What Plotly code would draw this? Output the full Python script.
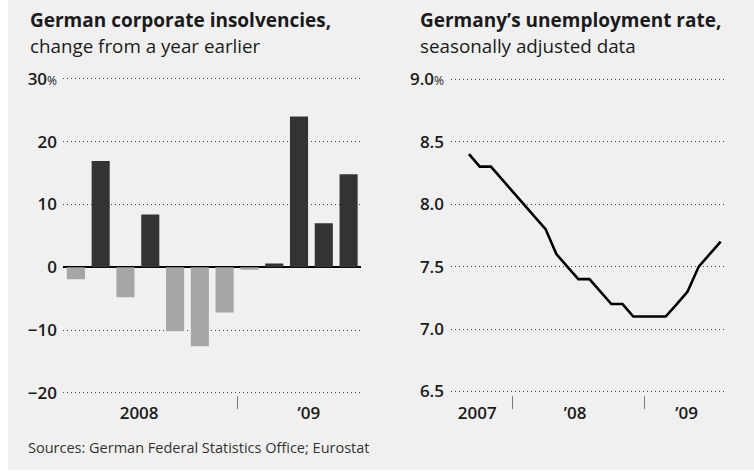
import plotly.graph_objects as go

# ---- data ----
insolv_idx = list(range(12))  # monthly, Jun 2008 - May 2009
insolv_vals = [-1.9, 16.9, -4.8, 8.4, -10.2, -12.6, -7.2, -0.4, 0.6, 24.0, 7.0, 14.8]
insolv_year_labels = ["2008", "\u201909"]
insolv_year_pos = [2.55, 9.4]
insolv_divider = [6.5]

unemp_dates = ["2007-09-01", "2007-10-01", "2007-11-01", "2007-12-01",
               "2008-01-01", "2008-02-01", "2008-03-01", "2008-04-01",
               "2008-05-01", "2008-06-01", "2008-07-01", "2008-08-01",
               "2008-09-01", "2008-10-01", "2008-11-01", "2008-12-01",
               "2009-01-01", "2009-02-01", "2009-03-01", "2009-04-01",
               "2009-05-01", "2009-06-01", "2009-07-01", "2009-08-01"]
unemp_vals = [8.4, 8.3, 8.3, 8.2, 8.1, 8.0, 7.9, 7.8,
              7.6, 7.5, 7.4, 7.4, 7.3, 7.2, 7.2, 7.1,
              7.1, 7.1, 7.1, 7.2, 7.3, 7.5, 7.6, 7.7]
unemp_year_labels = ["2007", "\u201908", "\u201909"]
unemp_year_pos = ["2007-09-24", "2008-06-22", "2009-04-28"]
unemp_dividers = ["2008-01-01", "2009-01-01"]

left_yticks = [30, 20, 10, 0, -10, -20]
left_ytext = ["30<span style='font-size:12px;font-weight:400'>%</span>", "20", "10", "0", "\u221210", "\u221220"]
right_yticks = [9.0, 8.5, 8.0, 7.5, 7.0, 6.5]
right_ytext = ["9.0<span style='font-size:12px;font-weight:400'>%</span>", "8.5", "8.0", "7.5", "7.0", "6.5"]

# ---- style ----
W, H = 754, 475
FONT = "Open Sans"
BG = "#f0f0f0"
TXT = "#1a1a1a"
GRID = "#444444"
DARK = "#333333"
LIGHT = "#a6a6a6"

bar_colors = [DARK if v >= 0 else LIGHT for v in insolv_vals]

fig = go.Figure()
fig.add_trace(go.Bar(x=insolv_idx, y=insolv_vals, marker=dict(color=bar_colors, line=dict(width=0)),
                     xaxis="x", yaxis="y", showlegend=False))
fig.add_trace(go.Scatter(x=unemp_dates, y=unemp_vals, mode="lines",
                         line=dict(color="#000000", width=2.6),
                         xaxis="x2", yaxis="y2", showlegend=False))

ydom_l = [1 - 394.7 / H, 1 - 76.9 / H]
ydom_r = [1 - 393.4 / H, 1 - 77.3 / H]
tickfont = dict(family=FONT, size=17, color=TXT, weight=600)
GDASH = "1px,3px"

fig.update_layout(
    width=W, height=H,
    margin=dict(l=0, r=0, t=0, b=0, autoexpand=False),
    paper_bgcolor="white", plot_bgcolor=BG,
    bargap=0.27,
    xaxis=dict(domain=[63 / W, 361 / W], range=[-0.52, 11.5], showgrid=False, zeroline=False,
               automargin=False,
               tickmode="array", tickvals=insolv_year_pos, ticktext=insolv_year_labels,
               ticks="outside", ticklen=3, tickcolor="rgba(0,0,0,0)", tickfont=tickfont,
               showline=False,
               minor=dict(tickmode="array", tickvals=insolv_divider, ticks="outside",
                          ticklen=13, tickcolor="#777777", tickwidth=1, showgrid=False)),
    yaxis=dict(domain=ydom_l, range=[-20.3, 30.3], tickmode="array", tickvals=left_yticks,
               automargin=False,
               ticktext=left_ytext, tickfont=tickfont, showgrid=True, gridcolor=GRID,
               gridwidth=1, griddash=GDASH, zeroline=True, zerolinecolor="#000000",
               zerolinewidth=2, ticks="", ticklabelstandoff=5, showline=False),
    xaxis2=dict(domain=[451 / W, 725 / W], type="date", range=["2007-07-13", "2009-08-13"],
                automargin=False,
                showgrid=False, zeroline=False, tickmode="array", tickvals=unemp_year_pos,
                ticktext=unemp_year_labels, ticks="outside", ticklen=3,
                tickcolor="rgba(0,0,0,0)", tickfont=tickfont, showline=False,
                minor=dict(tickmode="array", tickvals=unemp_dividers, ticks="outside",
                           ticklen=13, tickcolor="#777777", tickwidth=1, showgrid=False)),
    yaxis2=dict(domain=ydom_r, range=[6.485, 9.015], anchor="x2", tickmode="array",
                automargin=False,
                tickvals=right_yticks, ticktext=right_ytext, tickfont=tickfont,
                showgrid=True, gridcolor=GRID, gridwidth=1, griddash=GDASH,
                zeroline=False, ticks="", ticklabelstandoff=6, showline=False),
    shapes=[dict(type="rect", xref="paper", yref="paper", x0=8 / W, x1=1, y0=5 / H, y1=1,
                 fillcolor=BG, line=dict(width=0), layer="below")],
)

def ann(text, xpx, ypx, size, weight=400, color=TXT):
    fig.add_annotation(text=text, xref="paper", yref="paper", x=xpx / W, y=1 - ypx / H,
                       xanchor="left", yanchor="middle", showarrow=False,
                       font=dict(family=FONT, size=size, color=color, weight=weight))

ann("German corporate insolvencies,", 28, 20.5, 19, 700)
ann("change from a year earlier", 28, 45.5, 18.8)
ann("Germany\u2019s unemployment rate,", 418, 20.5, 19, 700)
ann("seasonally adjusted data", 418, 45.5, 18.8)
ann("Sources: German Federal Statistics Office; Eurostat", 26, 447.5, 14.5, 400, "#333333")

fig.write_html("out.html")
